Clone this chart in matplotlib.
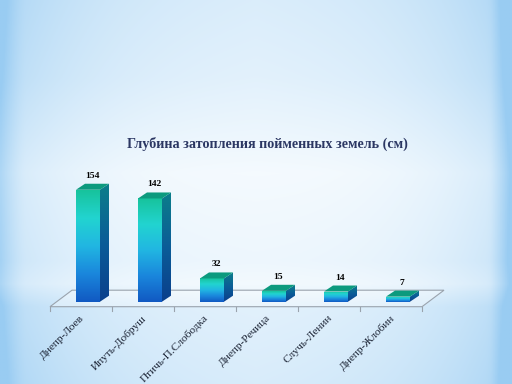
import numpy as np
import matplotlib
matplotlib.use("Agg")
import matplotlib.pyplot as plt
from matplotlib.patches import Polygon, Rectangle
from matplotlib.colors import LinearSegmentedColormap

categories = ["Днепр-Лоев", "Ипуть-Добруш", "Птичь-П.Слободка",
              "Днепр-Речица", "Случь-Ленин", "Днепр-Жлобин"]
values = [154, 142, 32, 15, 14, 7]
title = "Глубина затопления пойменных земель (см)"

W, H = 512, 384
fig = plt.figure(figsize=(W / 100, H / 100), dpi=100)

# ---- background gradient ----
bg = fig.add_axes([0, 0, 1, 1])
bg.set_axis_off()
yy, xx = np.mgrid[0:1:240j, 0:1:300j]
white = np.array([0.98, 0.992, 1.0])
blue = np.array([0.60, 0.80, 0.95])
dx = np.abs(xx - 0.5) / 0.5
wv = np.interp(yy, [0, 0.2, 0.45, 0.68, 0.74, 0.8, 1.0],
               [0.45, 0.34, 0.08, 0.18, 0.10, 0.35, 0.48])
wh = 0.35 * dx ** 3 + 0.35 * np.clip((dx - 0.9) / 0.1, 0, 1) ** 1.5
wh = wh + np.where(xx > 0.5, 0.25 * np.clip((dx - 0.92) / 0.08, 0, 1), 0)
w = np.clip(wv * (0.72 + 0.28 * dx) + wh, 0, 1)
img = white[None, None, :] * (1 - w[..., None]) + blue[None, None, :] * w[..., None]
bg.imshow(img, extent=(0, 1, 0, 1), aspect="auto", origin="upper")
bg.set_xlim(0, 1)
bg.set_ylim(0, 1)

# ---- main axes: plane of the bar fronts ----
ylim = (0, 170)
ax = fig.add_axes([57 / W, (H - 301.7) / H, 372 / W, 170 * 0.727 / H])
ax.set_xlim(-0.5, len(values) - 0.5)
ax.set_ylim(*ylim)
ax.set_axis_off()
ax.patch.set_alpha(0)

pxx = 372 / len(values)
pxy = (170 * 0.727) / (ylim[1] - ylim[0])

def off(px, py):
    return px / pxx, py / pxy

# floor
fdx0, fdy0 = off(-7, -5)
fdx1, fdy1 = off(15, 11.5)
n = len(values)
fl = [(-0.5 + fdx0, fdy0), (n - 0.5 + fdx0, fdy0),
      (n - 0.5 + fdx1, fdy1), (-0.5 + fdx1, fdy1)]
ax.add_patch(Polygon(fl, closed=True, facecolor=(1, 1, 1, 0.3),
                     edgecolor="#9aa3ad", linewidth=0.8, clip_on=False, zorder=1))
tdx, tdy = off(0, -4)
for b in range(n + 1):
    x = b - 0.5 + fdx0
    ax.plot([x, x + tdx], [fdy0, fdy0 + tdy], color="#9aa3ad", lw=0.8,
            clip_on=False, zorder=1)

# bars
bw = 24 / pxx
ddx, ddy = off(9, 6)
front_cmap = LinearSegmentedColormap.from_list(
    "front", ["#1159c2", "#1a86dc", "#21b6e2", "#22d4d0", "#17c39c"])
side_cmap = LinearSegmentedColormap.from_list(
    "side", ["#0a3f8c", "#0b5c98", "#0b7e8a"])
grad = np.linspace(0, 1, 256)[:, None]

for i, v in enumerate(values):
    x0, x1 = i - bw / 2, i + bw / 2
    front = Rectangle((x0, 0), bw, v, facecolor="none", edgecolor="none")
    ax.add_patch(front)
    im = ax.imshow(grad, cmap=front_cmap, extent=(x0, x1, 0, v),
                   origin="lower", aspect="auto", zorder=3)
    im.set_clip_path(front)
    side = Polygon([(x1, 0), (x1 + ddx, ddy), (x1 + ddx, v + ddy), (x1, v)],
                   closed=True, facecolor="none", edgecolor="none")
    ax.add_patch(side)
    im2 = ax.imshow(grad, cmap=side_cmap, extent=(x1, x1 + ddx, 0, v + ddy),
                    origin="lower", aspect="auto", zorder=3)
    im2.set_clip_path(side)
    top = Polygon([(x0, v), (x1, v), (x1 + ddx, v + ddy), (x0 + ddx, v + ddy)],
                  closed=True, facecolor="#0c9a7e", edgecolor="none", zorder=4)
    ax.add_patch(top)
    lx, ly = off(4, 14)
    ax.text(i + lx, v + ly, str(v), ha="center", va="center",
            fontsize=6.8, fontweight="bold", family="Liberation Serif",
            color="black", zorder=5, clip_on=False)

ax.set_xlim(-0.5, n - 0.5)
ax.set_ylim(*ylim)

# category labels
cx, cy = off(-5, -15)
for i, c in enumerate(categories):
    ax.text(i + cx, cy, c, rotation=45, ha="right", va="center",
            rotation_mode="anchor", fontsize=8.2, family="Liberation Serif",
            color="#1a2233", clip_on=False)

fig.text(267 / W, 1 - 144 / H, title, ha="center", va="center",
         fontsize=10.2, fontweight="bold", family="Liberation Serif",
         color="#2b3763")

fig.savefig("out.png", dpi=100)
